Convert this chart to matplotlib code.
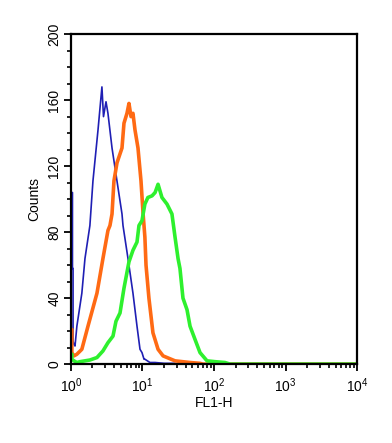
import numpy as np
import matplotlib
matplotlib.use("Agg")
import matplotlib.pyplot as plt
from matplotlib.ticker import MultipleLocator, LogLocator

plt.rcParams['font.family'] = ['Liberation Sans', 'DejaVu Sans']
plt.rcParams['mathtext.default'] = 'regular'

# histogram traces (FL1-H intensity, counts)
blue_fl = [1.00, 1.05, 1.05, 1.07, 1.07, 1.10, 1.14, 1.21, 1.42, 1.57, 1.84, 2.03, 2.39, 2.71,
           2.85, 3.09, 3.29, 3.75, 4.40, 5.17, 5.34, 6.27, 7.36, 8.38, 9.23, 9.84, 10.5, 10.8,
           12.7, 15.0, 20.0, 28.0, 30.0, 10000]
blue_counts = [104, 104, 58, 58, 14, 12, 11, 23, 43, 64, 84, 111, 142, 168,
               150, 159, 152, 131, 111, 91, 84, 64, 43, 23, 9, 7, 3, 3,
               1, 1, 0.5, 0.5, 0, 0]

orange_fl = [1.00, 1.03, 1.03, 1.10, 1.21, 1.42, 1.73, 2.31, 2.80, 3.29, 3.51, 3.75, 3.99, 4.40,
             5.17, 5.51, 6.07, 6.47, 6.91, 7.36, 7.85, 8.65, 9.53, 10.2, 10.8, 11.2, 12.3, 14.0,
             16.5, 19.4, 28.5, 46.2, 63.7, 70.0, 10000]
orange_counts = [21, 21, 7, 5, 6, 9, 23, 43, 64, 81, 84, 91, 111, 122,
                 131, 146, 152, 158, 150, 152, 142, 131, 111, 91, 77, 60, 40, 19,
                 9, 5, 2, 1, 0.5, 0, 0]

green_fl = [1.00, 1.03, 1.03, 1.10, 1.21, 1.34, 1.84, 2.31, 2.80, 3.29, 3.87, 4.26, 4.85, 5.51,
            6.47, 7.36, 8.38, 8.93, 9.84, 10.8, 11.9, 13.6, 15.0, 16.5, 18.7, 22.0, 25.8, 28.5,
            31.4, 33.4, 36.8, 41.9, 46.2, 54.2, 63.7, 79.8, 103, 142, 168, 10000]
green_counts = [6, 6, 3, 2, 1, 1.5, 2.5, 4, 8, 13, 17, 26, 31, 46,
                62, 69, 74, 84, 87, 97, 101, 102, 104, 109, 101, 97, 91, 77,
                64, 58, 40, 33, 23, 15, 7, 2, 1.5, 1, 0, 0]

fig = plt.figure(figsize=(3.92, 4.43), dpi=100)
ax = fig.add_axes([0.181, 0.178, 0.730, 0.745])

ax.plot(blue_fl, blue_counts, color='#1f1fb4', linewidth=1.2)
ax.plot(orange_fl, orange_counts, color='#ff6a14', linewidth=2.6)
ax.plot(green_fl, green_counts, color='#2ef02e', linewidth=2.6)

ax.set_xscale('log')
ax.set_xlim(1, 10000)
ax.set_ylim(0, 200)

ax.yaxis.set_major_locator(MultipleLocator(40))
ax.yaxis.set_minor_locator(MultipleLocator(10))
ax.xaxis.set_major_locator(LogLocator(base=10, numticks=10))
ax.xaxis.set_minor_locator(LogLocator(base=10, subs=np.arange(2, 10), numticks=10))

ax.tick_params(axis='both', which='major', direction='out', length=5, width=1.3, labelsize=10)
ax.tick_params(axis='both', which='minor', direction='out', length=3, width=1.2)
ax.tick_params(axis='y', pad=2)
for lbl in ax.get_yticklabels():
    lbl.set_rotation(90)
    lbl.set_va('center')

for sp in ax.spines.values():
    sp.set_linewidth(1.6)

ax.set_xlabel('FL1-H', fontsize=10, labelpad=1)
ax.set_ylabel('Counts', fontsize=10, labelpad=4)

plt.savefig('out.png', dpi=100)
